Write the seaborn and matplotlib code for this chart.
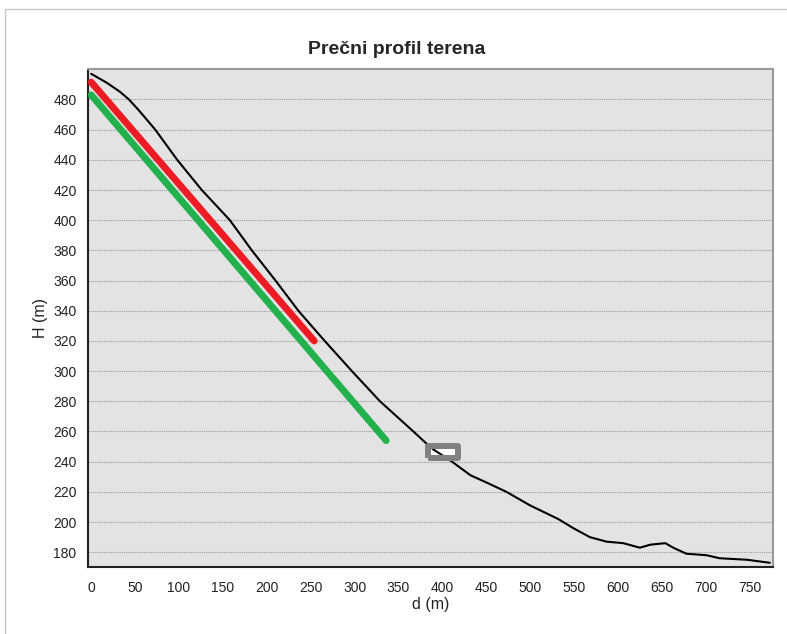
import numpy as np
import pandas as pd
import matplotlib
matplotlib.use("Agg")
import matplotlib.pyplot as plt
from matplotlib.lines import Line2D
import seaborn as sns

# -----------------------------------------------------------------------------
# DATA
# -----------------------------------------------------------------------------
profile_d = [0, 18, 33, 43, 54, 73, 98, 126, 158, 183, 210, 236, 266, 297, 329,
             367, 380, 390, 411, 432, 451, 473, 500, 532, 549, 568, 587, 606,
             625, 637, 654, 663, 678, 701, 716, 747, 773]
profile_h = [497, 491, 485, 480, 473, 460, 440, 420, 400, 380, 360, 340, 320,
             300, 280, 260, 253, 248, 240, 231, 226, 220, 211, 202, 196, 190,
             187, 186, 183, 185, 186, 183, 179, 178, 176, 175, 173]

red_d = [0, 254]
red_h = [491.5, 320]

green_d = [0, 336]
green_h = [483, 254]

marker_d = [401]
marker_h = [246.7]

x_ticks = list(range(0, 751, 50))
y_ticks = list(range(180, 481, 20))

profile = pd.DataFrame({"d": profile_d, "H": profile_h})
red = pd.DataFrame({"d": red_d, "H": red_h})
green = pd.DataFrame({"d": green_d, "H": green_h})

# -----------------------------------------------------------------------------
# STYLE
# -----------------------------------------------------------------------------
sns.set_style("white")
plt.rcParams["font.family"] = ["Liberation Sans", "DejaVu Sans"]

fig = plt.figure(figsize=(7.87, 6.34), dpi=100)
ax = fig.add_axes([0.1114, 0.1052, 0.8712, 0.7855])
ax.set_facecolor("#e3e3e3")

# -----------------------------------------------------------------------------
# PLOT
# -----------------------------------------------------------------------------
sns.lineplot(data=green, x="d", y="H", color="#22b14c", linewidth=5,
             solid_capstyle="round", sort=False, ax=ax, zorder=3)
sns.lineplot(data=red, x="d", y="H", color="#ed1c24", linewidth=5,
             solid_capstyle="round", sort=False, ax=ax, zorder=3)

# rectangle marker: white face under the line, gray border on top
rect = [(-1, -0.4), (1, -0.4), (1, 0.4), (-1, 0.4), (-1, -0.4)]
ax.plot(marker_d, marker_h, linestyle="none", marker=rect, markersize=22,
        markerfacecolor="white", markeredgecolor="none", zorder=4)
sns.lineplot(data=profile, x="d", y="H", color="black", linewidth=1.5,
             sort=False, ax=ax, zorder=5)
ax.plot(marker_d, marker_h, linestyle="none", marker=rect, markersize=22,
        markerfacecolor="none", markeredgecolor="#808080",
        markeredgewidth=4.3, zorder=6)

# -----------------------------------------------------------------------------
# AXES
# -----------------------------------------------------------------------------
ax.set_xlim(-4, 777)
ax.set_ylim(170, 500)
ax.set_xticks(x_ticks)
ax.set_yticks(y_ticks)
ax.tick_params(axis="both", direction="out", length=5, width=1.2,
               color="#333333", labelsize=10, pad=3, labelcolor="#222222")
ax.tick_params(axis="x", pad=5)

ax.yaxis.grid(True, linestyle=(0, (1, 1)), color="#9a9a9a", linewidth=0.8)
ax.xaxis.grid(False)
ax.set_axisbelow(True)

for side in ["left", "bottom"]:
    ax.spines[side].set_color("#222222")
    ax.spines[side].set_linewidth(1.5)
for side in ["top", "right"]:
    ax.spines[side].set_color("#9a9a9a")
    ax.spines[side].set_linewidth(1.5)

ax.set_xlabel("d (m)", fontsize=11.5, color="#222222", labelpad=1)
ax.set_ylabel("H (m)", fontsize=11.5, color="#222222", labelpad=4)

fig.text(397 / 787, 1 - 50 / 634, "Prečni profil terena", ha="center",
         va="center", fontsize=14, fontweight="bold")

# light frame around the chart area
fig.add_artist(Line2D([5 / 787, 1], [1 - 9 / 634, 1 - 9 / 634],
                      color="#c8c8c8", linewidth=1, transform=fig.transFigure))
fig.add_artist(Line2D([5 / 787, 5 / 787], [0, 1 - 9 / 634],
                      color="#c8c8c8", linewidth=1, transform=fig.transFigure))

fig.savefig("out.png", dpi=100)
